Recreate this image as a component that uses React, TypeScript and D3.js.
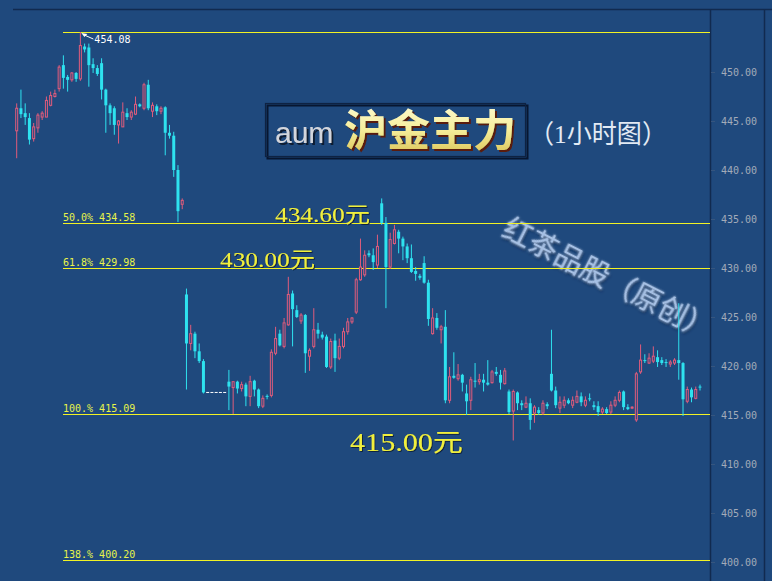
import React, { useEffect, useRef } from 'react';
import * as d3 from 'd3';

// hourly candles, [open, high, low, close]
const weekA = [
  [444.0, 446.8, 441.2, 446.3], [446.3, 448.2, 445.3, 445.7], [445.8, 446.8, 444.6, 445.4],
  [445.3, 445.8, 442.6, 443.1], [443.2, 444.8, 442.9, 444.4], [444.3, 445.8, 443.8, 445.6],
  [445.4, 446.0, 445.1, 445.8], [445.4, 447.5, 445.4, 447.1], [446.6, 448.0, 446.5, 447.6],
  [447.5, 448.2, 447.4, 447.8], [448.3, 450.7, 448.0, 450.5], [450.7, 451.7, 448.3, 449.4],
  [449.5, 449.7, 448.0, 449.2], [449.2, 450.0, 449.0, 449.9], [449.9, 450.0, 449.0, 449.3],
  [449.3, 454.08, 449.1, 452.7], [452.6, 452.9, 452.0, 452.3], [452.5, 452.9, 448.5, 450.7],
  [450.8, 451.4, 449.9, 450.4], [450.4, 450.7, 449.6, 449.8], [450.9, 451.4, 447.2, 448.2],
  [448.2, 448.3, 443.8, 446.6], [446.6, 446.8, 444.6, 445.8], [446.3, 446.5, 443.6, 444.6],
  [444.6, 445.1, 442.7, 445.0], [444.4, 446.9, 444.4, 445.9], [445.8, 446.3, 445.1, 445.4],
  [445.4, 446.1, 445.1, 445.9], [445.7, 447.5, 445.6, 446.7], [446.7, 446.8, 446.4, 446.5],
  [446.3, 448.9, 446.1, 448.7], [448.7, 449.2, 446.1, 446.3], [446.0, 446.9, 445.4, 446.6],
  [446.5, 446.7, 445.6, 446.0], [446.0, 446.5, 445.7, 446.3], [446.4, 446.5, 441.5, 443.8],
  [443.8, 444.6, 443.2, 443.5], [443.5, 443.9, 439.3, 440.0], [440.0, 440.5, 434.7, 435.8],
  [436.5, 437.1, 436.0, 436.9],
];

const weekB = [
  [427.3, 427.9, 417.6, 422.3], [422.3, 424.2, 421.6, 423.3], [423.3, 423.5, 420.8, 421.5],
  [421.5, 422.3, 420.3, 420.5], [420.5, 420.7, 417.2, 417.3],
  [417.3, 417.3, 417.3, 417.3], [417.3, 417.3, 417.3, 417.3], [417.3, 417.3, 417.3, 417.3],
  [417.3, 417.3, 417.3, 417.3], [417.3, 417.3, 417.3, 417.3],
  [418.4, 419.6, 415.5, 417.9], [417.8, 418.4, 415.1, 418.4], [418.4, 418.5, 417.2, 417.7],
  [417.7, 418.4, 417.4, 418.1], [418.1, 418.3, 415.9, 416.9], [416.9, 419.0, 415.9, 418.4],
  [418.5, 418.6, 416.9, 417.6], [417.6, 417.7, 415.7, 415.9], [415.9, 417.0, 415.7, 416.7],
  [416.95, 417.1, 416.6, 416.85], [417.0, 421.7, 416.8, 421.4], [421.3, 424.0, 421.1, 422.8],
  [423.3, 423.7, 422.0, 422.1], [422.0, 424.9, 421.8, 424.4], [424.2, 429.1, 424.1, 427.3],
  [427.4, 427.7, 422.0, 425.8], [425.7, 426.2, 424.9, 425.0], [424.6, 425.4, 424.3, 425.2],
  [425.2, 425.3, 419.3, 421.3], [421.0, 421.8, 419.5, 421.6], [422.0, 425.9, 421.8, 423.7],
  [423.7, 424.4, 422.8, 423.3], [423.2, 423.5, 422.7, 422.9], [423.0, 423.2, 419.8, 419.9],
  [419.9, 422.8, 419.7, 422.5], [422.6, 423.3, 419.4, 420.8], [420.8, 422.8, 420.6, 422.0],
  [422.0, 423.9, 421.8, 423.5], [423.5, 424.9, 423.2, 424.5], [424.5, 425.0, 424.3, 424.9],
  [425.5, 429.0, 425.3, 428.8], [428.8, 433.0, 428.7, 430.1],
];

const weekC = [
  [429.3, 431.8, 429.1, 431.3], [431.5, 431.8, 431.1, 431.3], [431.3, 432.0, 429.8, 430.6],
  [430.3, 433.4, 430.0, 432.2], [436.6, 437.1, 434.4, 434.6], [434.6, 435.2, 425.9, 430.1],
  [430.1, 433.6, 429.9, 432.9], [432.5, 434.4, 432.4, 433.9], [433.7, 433.9, 431.5, 433.0],
  [433.0, 433.2, 430.8, 432.2], [432.2, 432.5, 430.5, 431.0], [431.0, 432.4, 429.5, 429.6],
  [429.7, 430.1, 428.7, 429.4], [429.2, 429.4, 428.8, 429.0], [430.5, 431.2, 428.4, 428.5],
  [428.5, 428.8, 424.1, 424.8], [423.3, 425.9, 423.2, 424.9], [424.9, 425.4, 423.7, 423.9],
  [423.7, 424.2, 422.3, 424.0], [424.0, 425.7, 416.2, 416.5], [416.5, 419.9, 416.2, 418.9],
  [419.0, 421.4, 418.7, 418.8], [418.7, 420.2, 418.5, 419.1], [419.1, 419.2, 417.4, 418.3],
  [417.2, 418.1, 415.0, 416.4], [416.5, 418.9, 415.5, 418.6], [418.5, 420.3, 417.8, 418.4],
  [418.4, 419.2, 418.1, 418.6], [418.6, 419.2, 417.4, 418.3], [418.3, 420.6, 418.0, 418.1],
  [418.3, 419.6, 418.2, 419.4], [419.4, 419.9, 419.0, 419.2], [419.1, 419.6, 417.6, 418.3],
  [418.2, 419.8, 418.1, 419.5], [417.4, 417.6, 415.1, 415.3], [415.4, 417.6, 412.4, 417.4],
  [417.3, 417.4, 415.5, 416.2], [416.2, 416.5, 415.5, 416.0], [415.8, 416.9, 415.7, 416.2],
  [416.2, 416.7, 413.5, 414.5], [415.2, 416.0, 414.2, 415.8],
];

const weekD = [
  [415.5, 415.8, 415.0, 415.2], [415.2, 416.5, 415.0, 416.2], [416.1, 416.3, 415.6, 415.9],
  [419.2, 423.7, 417.4, 417.5], [417.5, 417.9, 415.7, 416.0], [415.7, 416.9, 415.2, 416.3],
  [416.0, 416.9, 415.7, 416.5], [416.5, 416.7, 416.1, 416.2], [416.0, 416.9, 415.7, 416.5],
  [416.3, 417.5, 416.2, 416.9], [416.9, 417.3, 415.9, 416.3], [416.0, 416.9, 415.8, 416.5],
  [416.7, 417.2, 416.4, 416.6], [416.0, 416.4, 415.5, 415.8], [415.9, 416.4, 414.9, 415.3],
  [415.3, 415.8, 415.1, 415.6], [415.6, 415.8, 415.1, 415.2], [415.3, 416.4, 415.1, 416.0],
  [416.0, 416.9, 415.8, 416.5], [416.5, 417.5, 416.3, 417.3], [417.4, 417.5, 415.5, 415.8],
  [415.8, 416.1, 415.5, 415.6], [415.7, 415.9, 415.6, 415.8], [414.5, 419.4, 414.3, 419.2],
  [419.4, 422.2, 419.2, 420.6], [420.6, 421.2, 420.3, 420.5], [420.3, 421.3, 420.2, 420.8],
  [420.5, 422.0, 420.3, 421.0], [420.9, 421.6, 419.9, 420.4], [420.6, 420.9, 420.1, 420.3],
  [420.4, 420.7, 419.9, 420.3], [420.2, 420.6, 419.9, 420.4], [420.3, 420.8, 420.1, 420.6],
  [420.6, 426.4, 418.6, 420.3], [420.3, 420.4, 414.9, 416.6], [416.4, 417.9, 416.2, 417.6],
  [417.6, 417.8, 416.3, 416.8], [416.7, 417.9, 416.6, 417.6], [417.9, 418.1, 417.5, 417.8],
];

const priceTicks = [400, 405, 410, 415, 420, 425, 430, 435, 440, 445, 450];
const fibLevels = [454.08, 434.58, 429.98, 415.09, 400.20];
const fibLabels = ['', '50.0% 434.58', '61.8% 429.98', '100.% 415.09', '138.% 400.20'];
const highLabel = '454.08';
const notes = ['434.60元', '430.00元', '415.00元'];

const BG = '#1f497d';
const DARK = '#112a4f';
const UP = '#e05c7c';
const DOWN = '#2ee2ef';

const Chart = () => {
  const svgRef = useRef<SVGSVGElement>(null);

  useEffect(() => {
    if (!svgRef.current) return;
    const W = 772, H = 581;
    const svg = d3.select(svgRef.current);
    svg.selectAll('*').remove();
    svg.attr('width', W).attr('height', H);

    const candles = [...weekA, ...weekB, ...weekC, ...weekD].map((d, i) => ({
      i, o: d[0], h: d[1], l: d[2], c: d[3],
    }));

    const y = d3.scaleLinear().domain([400, 450]).range([562, 72]);
    const x = d3.scalePoint<number>().domain(candles.map(d => d.i)).range([16.7, 700]);

    const defs = svg.append('defs');
    const grad = defs.append('linearGradient').attr('id', 'gold').attr('x1', 0).attr('y1', 0).attr('x2', 0).attr('y2', 1);
    grad.append('stop').attr('offset', '0%').attr('stop-color', '#fffde0');
    grad.append('stop').attr('offset', '55%').attr('stop-color', '#f6ee9a');
    grad.append('stop').attr('offset', '100%').attr('stop-color', '#d8c050');

    const shadow = (id: string, dx: number, color: string, blurAmt: number) => {
      const f = defs.append('filter').attr('id', id)
        .attr('x', '-20%').attr('y', '-30%').attr('width', '140%').attr('height', '160%');
      f.append('feDropShadow').attr('dx', dx).attr('dy', dx).attr('stdDeviation', blurAmt)
        .attr('flood-color', color).attr('flood-opacity', 1);
    };
    shadow('redShadow', 2, '#5a1e0c', 0);
    shadow('darkShadow', 2, '#0a1a33', 0);
    shadow('noteShadow', 1, '#0d2040', 0.4);

    // watermark: soft pale halo with a faint dark offset
    const glow = defs.append('filter').attr('id', 'glow')
      .attr('x', '-20%').attr('y', '-40%').attr('width', '140%').attr('height', '180%');
    glow.append('feGaussianBlur').attr('in', 'SourceAlpha').attr('stdDeviation', 1.5).attr('result', 'b');
    glow.append('feOffset').attr('in', 'b').attr('dx', 2).attr('dy', 2).attr('result', 'ob');
    glow.append('feFlood').attr('flood-color', '#0b1f40').attr('flood-opacity', 0.55);
    glow.append('feComposite').attr('in2', 'ob').attr('operator', 'in').attr('result', 'dark');
    glow.append('feGaussianBlur').attr('in', 'SourceAlpha').attr('stdDeviation', 1.1).attr('result', 'db');
    glow.append('feFlood').attr('flood-color', '#e6efff').attr('flood-opacity', 0.6);
    glow.append('feComposite').attr('in2', 'db').attr('operator', 'in').attr('result', 'light');
    const merge = glow.append('feMerge');
    merge.append('feMergeNode').attr('in', 'dark');
    merge.append('feMergeNode').attr('in', 'light');
    merge.append('feMergeNode').attr('in', 'SourceGraphic');

    svg.append('rect').attr('width', W).attr('height', H).attr('fill', BG);

    // frame lines
    svg.append('line').attr('x1', 13).attr('x2', W).attr('y1', 9.5).attr('y2', 9.5)
      .attr('stroke', DARK).attr('stroke-width', 1.5);
    svg.append('line').attr('x1', 710.5).attr('x2', 710.5).attr('y1', 9).attr('y2', H)
      .attr('stroke', DARK).attr('stroke-width', 1.5);
    svg.append('line').attr('x1', 764.5).attr('x2', 764.5).attr('y1', 9).attr('y2', H)
      .attr('stroke', DARK).attr('stroke-width', 1.5);

    // price axis
    const axis = svg.append('g');
    axis.selectAll('line').data(priceTicks).enter().append('line')
      .attr('x1', 711).attr('x2', 715)
      .attr('y1', d => Math.round(y(d)) + 0.5).attr('y2', d => Math.round(y(d)) + 0.5)
      .attr('stroke', '#35557f');
    axis.selectAll('text').data(priceTicks).enter().append('text')
      .attr('x', 721).attr('y', d => y(d) + 4)
      .attr('font-family', 'DejaVu Sans Mono, monospace').attr('font-size', 10)
      .attr('fill', '#a2abb9')
      .text(d => d3.format('.2f')(d));

    // watermark
    svg.append('text')
      .attr('transform', 'translate(607,281) rotate(27)')
      .attr('text-anchor', 'middle').attr('dominant-baseline', 'middle')
      .attr('font-family', 'Noto Sans CJK SC').attr('font-size', 29)
      .attr('fill', '#a6c0e4').attr('filter', 'url(#glow)')
      .text('红茶品股（原创）');

    // fibonacci lines
    const fib = svg.append('g');
    fib.selectAll('line').data(fibLevels).enter().append('line')
      .attr('x1', 63).attr('x2', 710)
      .attr('y1', d => Math.round(y(d)) + 0.5).attr('y2', d => Math.round(y(d)) + 0.5)
      .attr('stroke', '#f2f224').attr('stroke-width', 1.2);
    fib.selectAll('text').data(fibLevels).enter().append('text')
      .attr('x', 63).attr('y', d => Math.round(y(d)) - 2)
      .attr('font-family', 'DejaVu Sans Mono, monospace').attr('font-size', 10)
      .attr('fill', '#e8f44a')
      .text((_, i) => fibLabels[i]);

    // candles
    const g = svg.append('g');
    const flat = candles.filter(d => d.h === d.l);
    const bars = candles.filter(d => d.h !== d.l);
    g.selectAll('line.wick').data(bars).enter().append('line')
      .attr('class', 'wick')
      .attr('x1', d => x(d.i)!).attr('x2', d => x(d.i)!)
      .attr('y1', d => y(d.h)).attr('y2', d => y(d.l))
      .attr('stroke', d => (d.c > d.o ? UP : DOWN)).attr('stroke-width', 1);
    g.selectAll('rect.body').data(bars).enter().append('rect')
      .attr('class', 'body')
      .attr('x', d => x(d.i)! - (d.c > d.o ? 1 : 1.5))
      .attr('width', d => (d.c > d.o ? 2 : 3))
      .attr('y', d => y(Math.max(d.o, d.c)))
      .attr('height', d => Math.max(1, Math.abs(y(d.o) - y(d.c))))
      .attr('fill', d => (d.c > d.o ? BG : DOWN))
      .attr('stroke', d => (d.c > d.o ? UP : 'none'))
      .attr('stroke-width', 1);
    g.selectAll('line.flat').data(flat).enter().append('line')
      .attr('class', 'flat')
      .attr('x1', d => x(d.i)! - 1.5).attr('x2', d => x(d.i)! + 1.5)
      .attr('y1', d => y(d.c)).attr('y2', d => y(d.c))
      .attr('stroke', '#ffffff').attr('stroke-width', 1);

    // high marker
    const top = candles.reduce((a, b) => (b.h > a.h ? b : a));
    const hx = x(top.i)!, hy = y(top.h);
    svg.append('path')
      .attr('d', `M${hx + 1},${hy + 1} L${hx + 7},${hy + 2} L${hx + 4},${hy + 5} Z`)
      .attr('fill', '#ffffff');
    svg.append('line').attr('x1', hx + 4).attr('y1', hy + 3).attr('x2', hx + 13).attr('y2', hy + 7)
      .attr('stroke', '#ffffff');
    svg.append('text').attr('x', hx + 14).attr('y', hy + 11)
      .attr('font-family', 'DejaVu Sans Mono, monospace').attr('font-size', 10)
      .attr('fill', '#ffffff').text(highLabel);

    // price notes
    const noteFont = "'Liberation Serif', 'Noto Sans CJK SC', serif";
    const notePos = [
      { x: 275, y: y(434.6) - 1, size: 22, len: 95 },
      { x: 220, y: y(430) - 1, size: 22, len: 95 },
      { x: 350, y: y(415) + 36, size: 25, len: 113 },
    ];
    notes.forEach((t, i) => {
      const p = notePos[i];
      svg.append('text').attr('x', p.x).attr('y', p.y)
        .attr('font-family', noteFont).attr('font-size', p.size)
        .attr('textLength', p.len).attr('lengthAdjust', 'spacingAndGlyphs')
        .attr('fill', '#f0f03c').attr('filter', 'url(#noteShadow)').text(t);
    });

    // title
    const title = svg.append('g');
    title.append('rect').attr('x', 267.5).attr('y', 105.5).attr('width', 260).attr('height', 53)
      .attr('fill', 'none').attr('stroke', '#071630').attr('stroke-width', 2);
    title.append('rect').attr('x', 265.5).attr('y', 103.5).attr('width', 260).attr('height', 53)
      .attr('fill', 'none').attr('stroke', '#0e2242').attr('stroke-width', 1.2);
    title.append('text').attr('x', 275).attr('y', 143)
      .attr('font-family', 'Liberation Sans, Arial, sans-serif').attr('font-size', 30)
      .attr('fill', '#d2d5dc').attr('filter', 'url(#darkShadow)').text('aum');
    title.append('text').attr('x', 344).attr('y', 146)
      .attr('font-family', 'Noto Sans CJK SC').attr('font-size', 43).attr('font-weight', 700)
      .attr('fill', 'url(#gold)').attr('filter', 'url(#redShadow)').text('沪金主力');
    title.append('text').attr('x', 529).attr('y', 143)
      .attr('font-family', "'Liberation Serif', 'Noto Sans CJK SC', serif").attr('font-size', 26)
      .attr('textLength', 138).attr('lengthAdjust', 'spacingAndGlyphs')
      .attr('fill', '#e2eaf4').text('（1小时图）');
  }, []);

  return <svg ref={svgRef} style={{ position: 'absolute', left: 0, top: 0, display: 'block' }}></svg>;
};

export default function App() {
  return <Chart />;
}
